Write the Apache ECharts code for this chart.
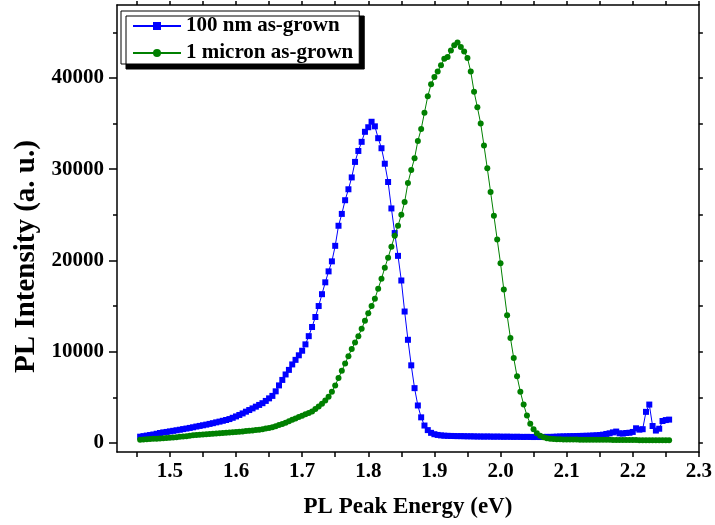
<!DOCTYPE html>
<html>
<head>
<meta charset="utf-8">
<style>
  html, body { margin: 0; padding: 0; background: #fff; }
  #chart { width: 715px; height: 525px; }
</style>
<script src="https://cdn.jsdelivr.net/npm/echarts@6/dist/echarts.min.js"></script>
</head>
<body>
<div id="chart"></div>
<script>
// photon energy (eV), shared by both spectra
const energy = [
  1.455, 1.46, 1.465, 1.47, 1.475, 1.48, 1.485, 1.49, 1.495, 1.5,
  1.505, 1.51, 1.515, 1.52, 1.525, 1.53, 1.535, 1.54, 1.545, 1.55,
  1.555, 1.56, 1.565, 1.57, 1.575, 1.58, 1.585, 1.59, 1.595, 1.6,
  1.605, 1.61, 1.615, 1.62, 1.625, 1.63, 1.635, 1.64, 1.645, 1.65,
  1.655, 1.66, 1.665, 1.67, 1.675, 1.68, 1.685, 1.69, 1.695, 1.7,
  1.705, 1.71, 1.715, 1.72, 1.725, 1.73, 1.735, 1.74, 1.745, 1.75,
  1.755, 1.76, 1.765, 1.77, 1.775, 1.78, 1.785, 1.79, 1.795, 1.8,
  1.805, 1.81, 1.815, 1.82, 1.825, 1.83, 1.835, 1.84, 1.845, 1.85,
  1.855, 1.86, 1.865, 1.87, 1.875, 1.88, 1.885, 1.89, 1.895, 1.9,
  1.905, 1.91, 1.915, 1.92, 1.925, 1.93, 1.935, 1.94, 1.945, 1.95,
  1.955, 1.96, 1.965, 1.97, 1.975, 1.98, 1.985, 1.99, 1.995, 2.0,
  2.005, 2.01, 2.015, 2.02, 2.025, 2.03, 2.035, 2.04, 2.045, 2.05,
  2.055, 2.06, 2.065, 2.07, 2.075, 2.08, 2.085, 2.09, 2.095, 2.1,
  2.105, 2.11, 2.115, 2.12, 2.125, 2.13, 2.135, 2.14, 2.145, 2.15,
  2.155, 2.16, 2.165, 2.17, 2.175, 2.18, 2.185, 2.19, 2.195, 2.2,
  2.205, 2.21, 2.215, 2.22, 2.225, 2.23, 2.235, 2.24, 2.245, 2.25,
  2.255
]

// 100 nm as-grown
const pl100nm = [
  680, 740, 800, 860, 920, 1000, 1080, 1150, 1200, 1260,
  1320, 1380, 1440, 1510, 1570, 1640, 1710, 1790, 1860, 1930,
  2000, 2080, 2160, 2250, 2330, 2420, 2510, 2610, 2750, 2900,
  3060, 3230, 3420, 3600, 3780, 3970, 4160, 4350, 4600, 4880,
  5150, 5650, 6300, 6900, 7500, 8000, 8600, 9100, 9600, 10100,
  10800, 11700, 12700, 13800, 15000, 16300, 17600, 18800, 19900, 21600,
  23800, 25100, 26600, 27800, 29100, 30800, 32000, 33000, 34100, 34600,
  35200, 34700, 33400, 32300, 30600, 28600, 25700, 23000, 20500, 17800,
  14400, 11300, 8500, 6000, 4100, 2800, 1900, 1400, 1100, 950,
  870, 820, 790, 770, 760, 750, 740, 740, 730, 720,
  720, 710, 700, 700, 690, 700, 690, 680, 690, 680,
  670, 680, 670, 660, 670, 660, 650, 660, 650, 640,
  650, 640, 650, 660, 650, 670, 680, 700, 710, 720,
  730, 740, 750, 760, 770, 780, 790, 810, 830, 860,
  900, 980, 1050, 1150, 1240, 1050, 1020, 1080, 1110, 1200,
  1600, 1450, 1500, 3400, 4200, 1850, 1350, 1550, 2400, 2500,
  2550
]

// 1 micron as-grown
const pl1micron = [
  330, 360, 390, 420, 440, 460, 490, 510, 540, 570,
  600, 630, 660, 700, 740, 790, 830, 870, 900, 920,
  950, 980, 1000, 1030, 1050, 1080, 1110, 1130, 1160, 1190,
  1220, 1250, 1290, 1330, 1370, 1410, 1450, 1500, 1570, 1640,
  1720, 1820, 1950, 2080, 2220, 2370, 2530, 2680, 2830, 2980,
  3130, 3280, 3440, 3700, 3980, 4300, 4650, 5050, 5600, 6300,
  7100, 7900, 8700, 9500, 10300, 11000, 11700, 12500, 13400, 14200,
  15000, 15800, 16900, 18000, 19200, 20300, 21500, 22700, 23800, 25000,
  26400, 28500, 29900, 31200, 33100, 34400, 36200, 38000, 39300, 40100,
  40700, 41400, 42100, 42300, 43000, 43600, 43900, 43400, 42900, 42200,
  40700, 38500, 36800, 35000, 32600, 30100, 27500, 24900, 22300, 19700,
  16800, 14000, 11500, 9300, 7300, 5600, 4200, 3000, 2100, 1500,
  1050, 780, 620, 520, 460, 420, 400, 390, 380, 370,
  370, 360, 360, 350, 350, 350, 340, 340, 340, 330,
  330, 330, 330, 320, 320, 320, 320, 310, 310, 310,
  310, 300, 300, 300, 300, 300, 290, 290, 290, 290,
  290
]

const xLabelValues = [1.5, 1.6, 1.7, 1.8, 1.9, 2.0, 2.1, 2.2, 2.3]
const xTickValues = [1.45, 1.5, 1.55, 1.6, 1.65, 1.7, 1.75, 1.8, 1.85, 1.9, 1.95, 2.0, 2.05, 2.1, 2.15, 2.2, 2.25, 2.3]
const yLabelValues = [0, 10000, 20000, 30000, 40000]
const yMinorValues = [5000, 15000, 25000, 35000, 45000]

const FONT = '"Liberation Serif", "Times New Roman", serif'
const axisColor = '#000'

const pairs = (ys) => energy.map((x, i) => [x, ys[i]])

const chart = echarts.init(document.getElementById('chart'), null, { renderer: 'canvas' })

const xBase = {
  type: 'value',
  min: 1.42,
  max: 2.3,
  splitLine: { show: false },
  axisLine: { onZero: false, lineStyle: { color: axisColor, width: 1.5 } },
}

const yBase = {
  type: 'value',
  min: -1000,
  max: 48000,
  splitLine: { show: false },
  axisLine: { onZero: false, lineStyle: { color: axisColor, width: 1.5 } },
}

chart.setOption({
  animation: false,
  grid: { left: 117, right: 15, top: 5, bottom: 73, containLabel: false },
  legend: {
    orient: 'vertical',
    left: 121,
    top: 11,
    padding: [4, 6, 0, 11],
    itemGap: 5,
    itemWidth: 48,
    itemHeight: 10,
    backgroundColor: '#fff',
    borderColor: '#000',
    borderWidth: 1,
    shadowColor: '#000',
    shadowBlur: 0,
    shadowOffsetX: 5,
    shadowOffsetY: 5,
    textStyle: { fontFamily: FONT, fontWeight: 'bold', fontSize: 21, lineHeight: 22, color: '#000' },
    data: ['100 nm as-grown', '1 micron as-grown'],
  },
  xAxis: [
    {
      ...xBase,
      position: 'bottom',
      name: 'PL Peak Energy (eV)',
      nameLocation: 'middle',
      nameGap: 44,
      nameTextStyle: { fontFamily: FONT, fontWeight: 'bold', fontSize: 23, color: '#000' },
      axisTick: { inside: false, length: 5, customValues: xTickValues, lineStyle: { color: axisColor, width: 1.5 } },
      axisLabel: {
        customValues: xLabelValues,
        margin: 9,
        fontFamily: FONT,
        fontWeight: 'bold',
        fontSize: 21,
        color: '#000',
        formatter: (v) => v.toFixed(1),
      },
    },
    {
      ...xBase,
      position: 'top',
      axisTick: { inside: false, length: 4, customValues: xTickValues, lineStyle: { color: axisColor, width: 1.5 } },
      axisLabel: { show: false },
    },
  ],
  yAxis: [
    {
      ...yBase,
      position: 'left',
      name: 'PL Intensity (a. u.)',
      nameLocation: 'middle',
      nameGap: 74,
      nameTextStyle: { fontFamily: FONT, fontWeight: 'bold', fontSize: 29, color: '#000', padding: [0, 56, 0, 0] },
      axisTick: { inside: false, length: 8, customValues: yLabelValues, lineStyle: { color: axisColor, width: 1.5 } },
      axisLabel: {
        customValues: yLabelValues,
        margin: 13,
        fontFamily: FONT,
        fontWeight: 'bold',
        fontSize: 21,
        color: '#000',
        formatter: (v) => String(v),
      },
    },
    {
      ...yBase,
      position: 'left',
      axisLine: { show: false },
      axisTick: { inside: false, length: 4, customValues: yMinorValues, lineStyle: { color: axisColor, width: 1.5 } },
      axisLabel: { show: false },
    },
    {
      ...yBase,
      position: 'right',
      axisTick: { inside: false, length: 4, customValues: yLabelValues.concat(yMinorValues), lineStyle: { color: axisColor, width: 1.5 } },
      axisLabel: { show: false },
    },
  ],
  series: [
    {
      name: '100 nm as-grown',
      type: 'line',
      data: pairs(pl100nm),
      symbol: 'rect',
      symbolSize: 6,
      lineStyle: { color: '#0000ff', width: 1 },
      itemStyle: { color: '#0000ff' },
      z: 2,
    },
    {
      name: '1 micron as-grown',
      type: 'line',
      data: pairs(pl1micron),
      symbol: 'circle',
      symbolSize: 6,
      lineStyle: { color: '#008000', width: 1 },
      itemStyle: { color: '#008000' },
      z: 3,
    },
  ],
})
</script>
</body>
</html>
